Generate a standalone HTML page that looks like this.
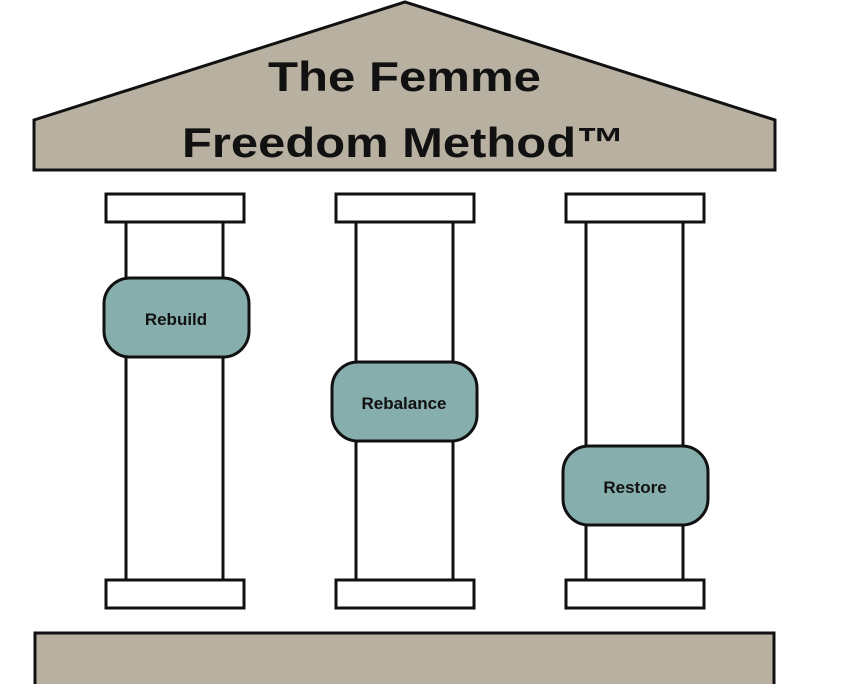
<!DOCTYPE html>
<html><head><style>body{margin:0;background:#fff}</style></head><body>
<svg width="845" height="684" xmlns="http://www.w3.org/2000/svg" font-family="Liberation Sans, sans-serif">
<polygon points="34,120 405,2 775,120 775,170 34,170" fill="#b8b1a1" stroke="#111" stroke-width="3"/>
<text x="268" y="91" font-size="42" font-weight="bold" textLength="273" lengthAdjust="spacingAndGlyphs" fill="#111">The Femme</text>
<text x="182" y="157" font-size="42" font-weight="bold" textLength="443" lengthAdjust="spacingAndGlyphs" fill="#111">Freedom Method™</text>
<g fill="#fff" stroke="#111" stroke-width="3">
<rect x="126" y="222" width="97" height="358"/>
<rect x="106" y="194" width="138" height="28"/>
<rect x="106" y="580" width="138" height="28"/>
<rect x="356" y="222" width="97" height="358"/>
<rect x="336" y="194" width="138" height="28"/>
<rect x="336" y="580" width="138" height="28"/>
<rect x="586" y="222" width="97" height="358"/>
<rect x="566" y="194" width="138" height="28"/>
<rect x="566" y="580" width="138" height="28"/>
</g>
<g fill="#86aeac" stroke="#111" stroke-width="3">
<rect x="104" y="278" width="145" height="79" rx="26"/>
<rect x="332" y="362" width="145" height="79" rx="26"/>
<rect x="563" y="446" width="145" height="79" rx="26"/>
</g>
<g font-size="17" font-weight="bold" text-anchor="middle" fill="#111">
<text x="176" y="325">Rebuild</text>
<text x="404" y="409">Rebalance</text>
<text x="635" y="493">Restore</text>
</g>
<rect x="35" y="633" width="739" height="55" fill="#b8b1a1" stroke="#111" stroke-width="3"/>
</svg>
</body></html>
